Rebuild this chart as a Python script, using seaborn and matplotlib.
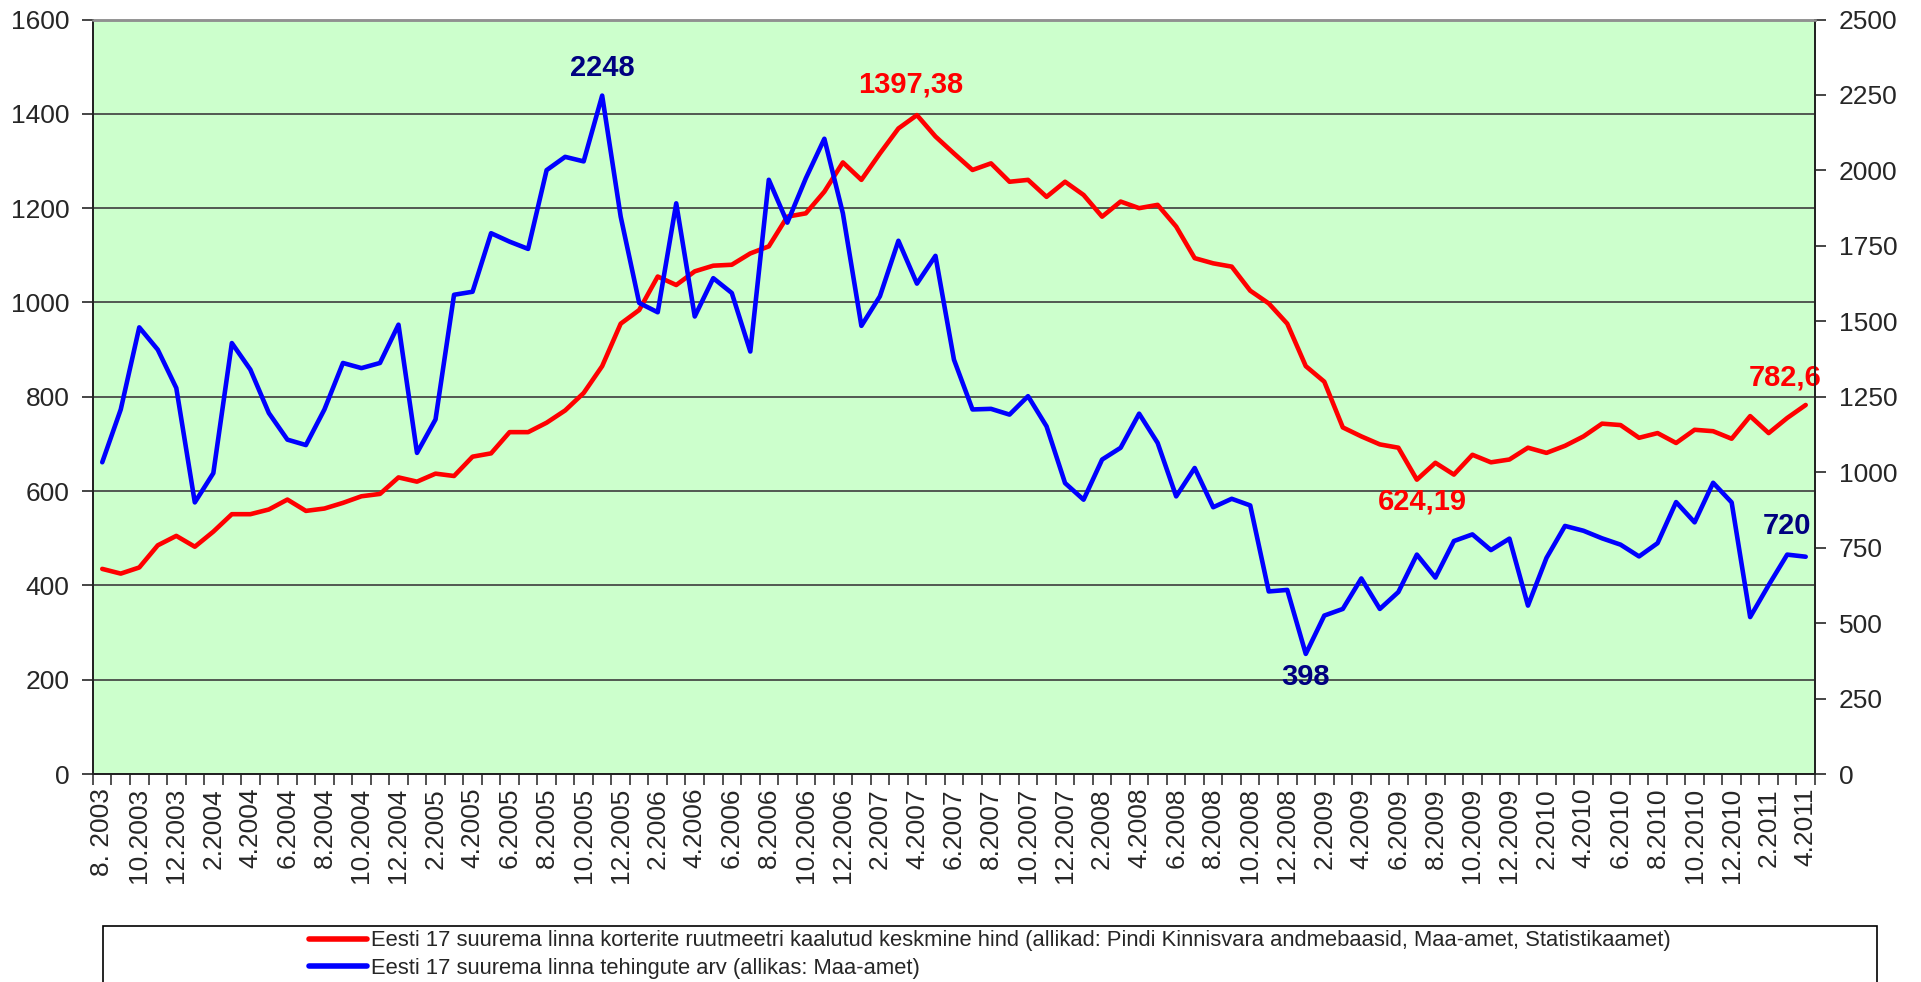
import seaborn as sns
import pandas as pd
import matplotlib.pyplot as plt
from matplotlib.lines import Line2D
from matplotlib.patches import Rectangle
from matplotlib.ticker import FixedLocator, NullFormatter

# monthly series, 8.2003 ... 4.2011
price = [435, 425, 438, 485, 505, 482, 514, 551, 551, 561,
         582, 558, 563, 575, 589, 594, 629, 620, 637, 632,
         673, 680, 725, 725, 745, 771, 808, 865, 955, 984,
         1055, 1037, 1066, 1078, 1080, 1104, 1119, 1182, 1189, 1235,
         1297, 1260, 1316, 1369, 1397.38, 1352, 1316, 1281, 1295, 1256,
         1260, 1224, 1256, 1228, 1182, 1214, 1200, 1207, 1161, 1094,
         1083, 1076, 1025, 998, 955, 865, 832, 735, 716, 699,
         692, 624.19, 660, 635, 677, 661, 667, 692, 681, 696,
         716, 743, 740, 713, 723, 702, 730, 727, 711, 759,
         723, 755, 782.6]

deals = [1033, 1208, 1480, 1406, 1279, 900, 997, 1428, 1340, 1196,
         1108, 1090, 1208, 1362, 1345, 1362, 1489, 1064, 1175, 1588,
         1598, 1792, 1764, 1740, 2001, 2045, 2030, 2248, 1847, 1561,
         1530, 1891, 1516, 1643, 1594, 1400, 1969, 1827, 1974, 2105,
         1858, 1485, 1583, 1767, 1625, 1717, 1373, 1208, 1210, 1191,
         1252, 1152, 964, 909, 1042, 1081, 1194, 1097, 920, 1014,
         884, 912, 890, 605, 610, 398, 525, 547, 648, 547,
         603, 727, 651, 772, 794, 742, 780, 558, 716, 822,
         806, 781, 760, 721, 765, 901, 834, 965, 900, 520,
         626, 727, 720]

months = [f"{(7 + i) % 12 + 1}.{2003 + (7 + i) // 12}" for i in range(len(price))]
months[0] = "8. 2003"

# labelled points: (index, text, offset in pixels)
price_notes = [(44, "1397,38", (-6, 31)), (71, "624,19", (6, -22)), (92, "782,6", (-21, 27))]
deal_notes = [(27, "2248", (0, 28)), (65, "398", (0, -23)), (92, "720", (-19, 31))]

label_price = ("Eesti 17 suurema linna korterite ruutmeetri kaalutud keskmine hind "
               "(allikad: Pindi Kinnisvara andmebaasid, Maa-amet, Statistikaamet)")
label_deals = "Eesti 17 suurema linna tehingute arv (allikas: Maa-amet)"

df = pd.DataFrame({"idx": range(len(price)), "price": price, "deals": deals})

sns.set_style("ticks")
plt.rcParams["font.family"] = ["Liberation Sans", "DejaVu Sans"]

fig = plt.figure(figsize=(19.21, 9.82), dpi=100)
ax = fig.add_axes([0.0484, 0.2118, 0.8964, 0.7683])
ax.set_facecolor("#CCFFCC")
ax2 = ax.twinx()

sns.lineplot(data=df, x="idx", y="price", ax=ax, color="#FF0000", linewidth=3.3)
sns.lineplot(data=df, x="idx", y="deals", ax=ax2, color="#0000FF", linewidth=3.3)
for ln in ax.lines + ax2.lines:
    ln.set_solid_joinstyle("round")
    ln.set_solid_capstyle("round")

ax.set_xlim(-0.5, len(price) - 0.5)
ax.set_ylim(0, 1600)
ax2.set_ylim(0, 2500)

ax.set_yticks(range(0, 1601, 200))
ax2.set_yticks(range(0, 2501, 250))
ax.yaxis.grid(True, color="#3c3c3c", linewidth=1.2)
ax.set_axisbelow(True)

ax.set_xticks(range(0, len(price), 2))
ax.set_xticklabels(months[::2], rotation=90)
ax.xaxis.set_minor_locator(FixedLocator([k - 0.5 for k in range(len(price) + 1)]))
ax.xaxis.set_minor_formatter(NullFormatter())
ax.tick_params(axis="x", which="major", length=0, pad=10, labelsize=19)
ax.tick_params(axis="x", which="minor", length=8, width=1.2, color="#333333", direction="out")
ax.tick_params(axis="y", length=8, width=1.2, pad=9, labelsize=19)
ax2.tick_params(axis="y", length=8, width=1.2, pad=9, labelsize=19)

ax.set_xlabel("")
ax.set_ylabel("")
ax2.set_ylabel("")

for a in (ax, ax2):
    a.spines["top"].set_color("#909090")
    a.spines["top"].set_linewidth(1.8)
    for s in ("left", "right", "bottom"):
        a.spines[s].set_color("#222222")
        a.spines[s].set_linewidth(1.3)

for i, txt, off in price_notes:
    ax.annotate(txt, (i, price[i]), xytext=off, textcoords="offset pixels",
                ha="center", va="center", color="#FF0000",
                fontsize=21, fontweight="bold")
for i, txt, off in deal_notes:
    ax2.annotate(txt, (i, deals[i]), xytext=off, textcoords="offset pixels",
                 ha="center", va="center", color="#000080",
                 fontsize=21, fontweight="bold")

# legend box (cut by the lower edge of the picture)
fig.patches.append(Rectangle((103 / 1921, -0.05), 1774 / 1921, 0.05 + 56 / 982,
                             transform=fig.transFigure, facecolor="white",
                             edgecolor="black", linewidth=1.2, zorder=0))
handles = [Line2D([], [], color="#FF0000", linewidth=4),
           Line2D([], [], color="#0000FF", linewidth=4)]
fig.legend(handles, [label_price, label_deals], loc="center",
           bbox_to_anchor=(0.5154, 0.028), frameon=False, fontsize=15.8,
           handlelength=2.6, handletextpad=0.2, labelspacing=0.3,
           borderpad=0)

fig.savefig("out.png", dpi=100)
